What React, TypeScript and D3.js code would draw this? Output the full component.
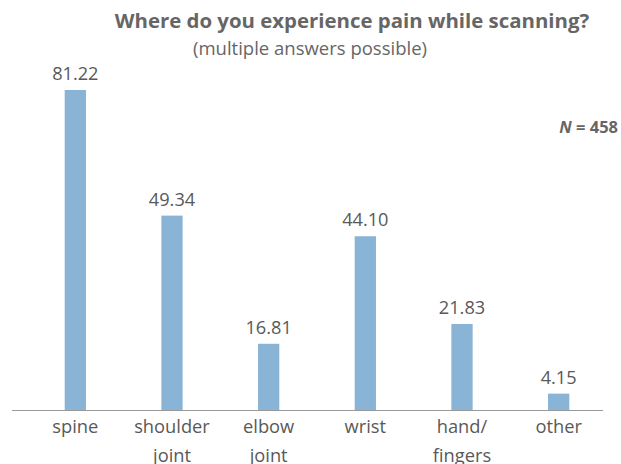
import React from "react";
import * as d3 from "d3";

const categories = ["spine", "shoulder joint", "elbow joint", "wrist", "hand/ fingers", "other"];
const categoryLines = [["spine"], ["shoulder", "joint"], ["elbow", "joint"], ["wrist"], ["hand/", "fingers"], ["other"]];
const values = [81.22, 49.34, 16.81, 44.1, 21.83, 4.15];
const labels = ["81.22", "49.34", "16.81", "44.10", "21.83", "4.15"];

const W = 621, H = 464;
const FONT = "'Open Sans', 'Noto Sans', sans-serif";

export default function App() {
  const x = d3.scaleBand<string>().domain(categories).range([27, 607]).paddingInner(0.78).paddingOuter(0.39);
  const y = d3.scaleLinear().domain([0, 81.22]).range([410, 90]);
  const gray = "#595959";
  return (
    <svg width={W} height={H} style={{ position: "absolute", left: 0, top: 0 }}>
      <rect width={W} height={H} fill="#fff" />
      <text x={352} y={28} textAnchor="middle" fontFamily={FONT} fontWeight={700} fontSize={20.4} fill="#666">
        Where do you experience pain while scanning?
      </text>
      <text x={310} y={55} textAnchor="middle" fontFamily={FONT} fontSize={18.5} fill="#666">
        (multiple answers possible)
      </text>
      <text x={618} y={133} textAnchor="end" fontFamily={FONT} fontWeight={700} fontSize={16.5} fill="#666">
        <tspan fontStyle="italic">N</tspan> = 458
      </text>
      {categories.map((c, i) => (
        <g key={c}>
          <rect x={x(c)} y={y(values[i])} width={x.bandwidth()} height={y(0) - y(values[i])} fill="#89b4d6" />
          <text x={x(c)! + x.bandwidth() / 2} y={y(values[i]) - 10} textAnchor="middle" fontFamily={FONT} fontSize={18.2} fill={gray}>
            {labels[i]}
          </text>
          {categoryLines[i].map((ln, j) => (
            <text key={j} x={x(c)! + x.bandwidth() / 2} y={433 + j * 29} textAnchor="middle" fontFamily={FONT} fontSize={18.3} fill={gray}>
              {ln}
            </text>
          ))}
        </g>
      ))}
      <line x1={12} x2={603} y1={410.5} y2={410.5} stroke="#999" strokeWidth={1.2} />
    </svg>
  );
}
